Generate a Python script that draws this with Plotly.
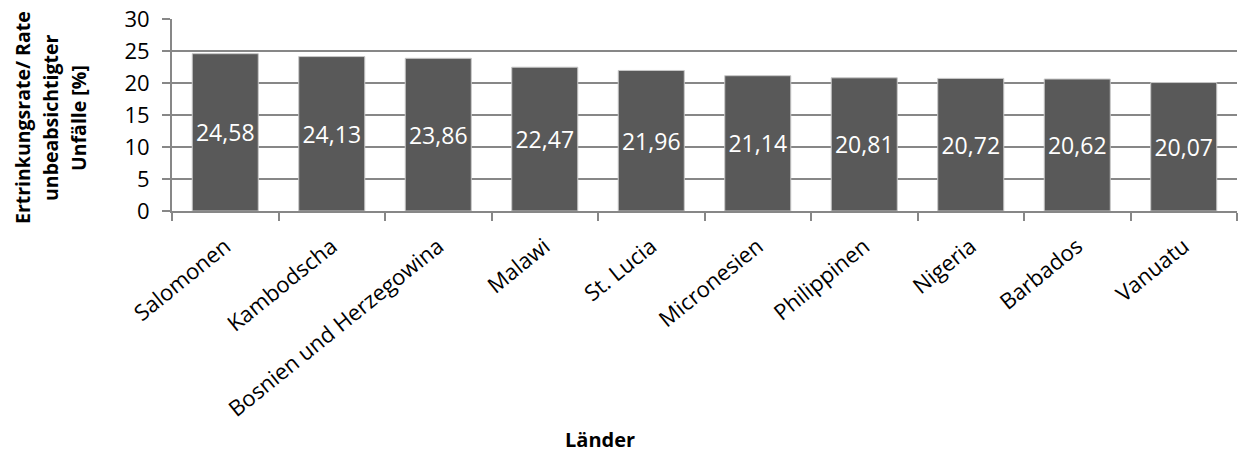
import plotly.graph_objects as go

# Ertrinkungsrate / Rate unbeabsichtigter Unfälle je Land
laender = [
    "Salomonen", "Kambodscha", "Bosnien und Herzegowina", "Malawi", "St. Lucia",
    "Micronesien", "Philippinen", "Nigeria", "Barbados", "Vanuatu",
]
werte = [24.58, 24.13, 23.86, 22.47, 21.96, 21.14, 20.81, 20.72, 20.62, 20.07]
y_ticks = [0, 5, 10, 15, 20, 25, 30]

FONT = "Open Sans"
GRID = "#878787"

W, H = 1239, 455
M_L, M_R, M_T, M_B = 172, 2, 19, 244
PLOT_W = W - M_L - M_R
PLOT_H = H - M_T - M_B


def px_x(px):
    """Pixelposition -> paper-Koordinate (x)."""
    return (px - M_L) / PLOT_W


def px_y(py):
    """Pixelposition -> paper-Koordinate (y)."""
    return (H - M_B - py) / PLOT_H


fig = go.Figure()
fig.add_trace(go.Bar(
    x=laender,
    y=werte,
    marker=dict(color="#595959", line=dict(color="#c8c8c8", width=1)),
    texttemplate="%{y:.2f}",
    textposition="inside",
    insidetextanchor="middle",
    textangle=0,
    textfont=dict(family=FONT, size=23, color="white"),
    hoverinfo="x+y",
))

# y-Achsentitel in drei Zeilen
titel_zeilen = ["Ertrinkungsrate/ Rate", "unbeabsichtigter", "Unfälle [%]"]
for i, zeile in enumerate(titel_zeilen):
    fig.add_annotation(
        x=px_x(22 + 28 * i), y=px_y(118), xref="paper", yref="paper",
        xanchor="center", yanchor="middle",
        text=f"<b>{zeile}</b>", showarrow=False, textangle=-90,
        font=dict(family=FONT, size=19.5, color="black"),
    )

fig.add_annotation(
    x=px_x(600), y=px_y(440), xref="paper", yref="paper",
    xanchor="center", yanchor="middle",
    text="<b>Länder</b>", showarrow=False,
    font=dict(family=FONT, size=20, color="black"),
)

fig.update_layout(
    width=W, height=H,
    margin=dict(l=M_L, r=M_R, t=M_T, b=M_B),
    paper_bgcolor="white", plot_bgcolor="white",
    showlegend=False,
    bargap=0.38,
    separators=",.",
    uniformtext=dict(minsize=10, mode="show"),
    xaxis=dict(
        type="category",
        tickangle=-39,
        tickfont=dict(family=FONT, size=22, color="black"),
        ticklabelstandoff=12,
        showline=True, linecolor=GRID, linewidth=2,
        ticks="outside", tickson="boundaries", ticklen=8, tickcolor=GRID, tickwidth=2,
        showgrid=False,
    ),
    yaxis=dict(
        range=[0, 30],
        tickvals=y_ticks,
        tickfont=dict(family=FONT, size=22, color="black"),
        ticklabelstandoff=8,
        showline=True, linecolor=GRID, linewidth=2,
        ticks="outside", ticklen=8, tickcolor=GRID, tickwidth=2,
        showgrid=True, gridcolor=GRID, gridwidth=2,
        zeroline=False,
    ),
)

fig.write_html("out.html")
